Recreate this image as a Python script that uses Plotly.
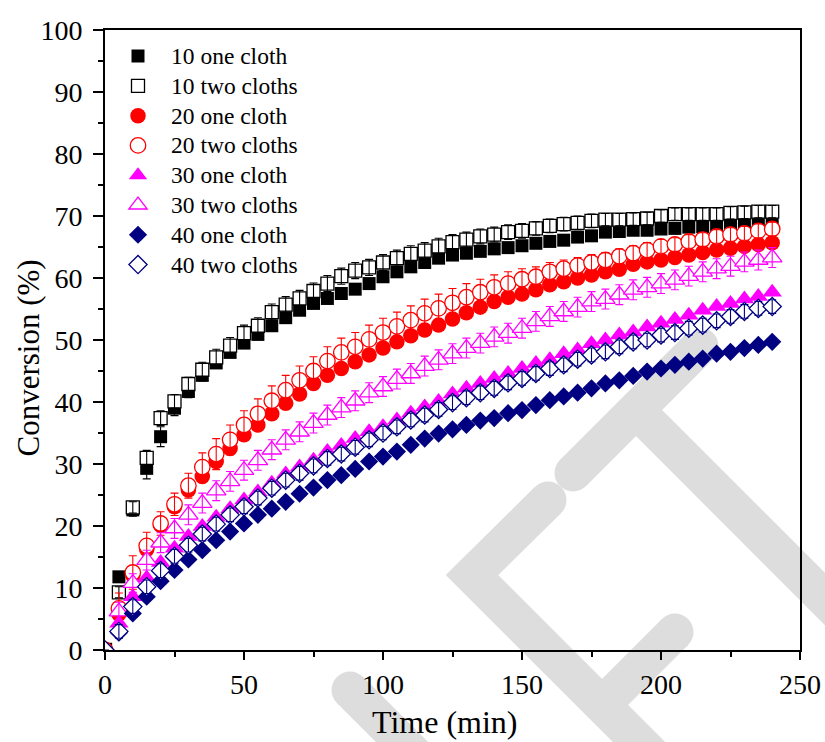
import plotly.graph_objects as go

# ---- data: conversion (%) versus time (min) ----
time = [0, 5, 10, 15, 20, 25, 30, 35, 40, 45, 50, 55, 60, 65, 70, 75, 80, 85, 90, 95,
        100, 105, 110, 115, 120, 125, 130, 135, 140, 145, 150, 155, 160, 165, 170,
        175, 180, 185, 190, 195, 200, 205, 210, 215, 220, 225, 230, 235, 240]

one10 = [0, 11.8, 22.6, 29.3, 34.4, 39.0, 41.7, 44.3, 46.3, 48.0, 49.5, 50.9, 52.3, 53.6,
         54.8, 55.9, 56.7, 57.5, 58.2, 59.1, 60.2, 61.0, 61.8, 62.5, 63.2, 63.7, 64.0, 64.3,
         64.7, 64.9, 65.2, 65.6, 65.9, 66.1, 66.6, 66.8, 67.4, 67.5, 67.7, 67.7, 67.9, 68.0,
         68.2, 68.3, 68.5, 68.5, 68.7, 68.8, 69.0]
two10 = [0, 9.3, 23.0, 31.0, 37.4, 40.1, 42.9, 45.2, 47.2, 49.1, 51.1, 52.3, 54.5, 55.7,
         56.7, 57.9, 59.1, 60.3, 61.2, 61.7, 62.5, 63.2, 63.9, 64.4, 65.1, 65.8, 66.2, 66.7,
         67.0, 67.4, 67.6, 68.0, 68.4, 68.7, 68.9, 69.2, 69.4, 69.4, 69.5, 69.6, 70.0, 70.3,
         70.3, 70.3, 70.3, 70.5, 70.6, 70.7, 70.7]
one20 = [0, 5.8, 12.0, 16.2, 20.1, 23.1, 25.8, 28.0, 30.4, 32.5, 34.7, 36.3, 38.1, 39.8,
         41.3, 43.0, 44.3, 45.4, 46.5, 47.6, 48.7, 49.7, 50.7, 51.6, 52.4, 53.4, 54.4, 55.3,
         56.2, 56.9, 57.4, 58.1, 58.9, 59.4, 60.0, 60.5, 61.0, 61.4, 62.2, 62.6, 62.9, 63.3,
         63.7, 64.1, 64.5, 64.8, 65.1, 65.4, 65.7]
two20 = [0, 6.7, 12.5, 16.8, 20.4, 23.5, 26.5, 29.5, 31.6, 33.9, 36.3, 38.1, 40.2, 41.9,
         43.5, 45.0, 46.6, 48.0, 48.9, 50.1, 51.2, 52.2, 53.2, 54.3, 55.1, 56.0, 56.9, 57.7,
         58.5, 59.1, 59.8, 60.2, 61.0, 61.5, 62.0, 62.5, 62.9, 63.5, 64.0, 64.5, 65.1, 65.4,
         65.9, 66.2, 66.7, 67.0, 67.2, 67.6, 67.9]
one30 = [0, 4.3, 8.6, 11.6, 14.1, 16.4, 18.3, 19.9, 21.4, 22.8, 24.2, 25.5, 26.9, 28.4,
         29.5, 30.6, 32.0, 33.0, 34.1, 35.2, 36.0, 37.1, 38.2, 39.2, 40.1, 41.3, 42.2, 43.0,
         43.8, 44.6, 45.4, 46.2, 46.8, 47.8, 48.4, 49.4, 50.0, 50.8, 51.3, 52.1, 52.7, 53.3,
         54.0, 54.8, 55.4, 55.9, 56.6, 57.0, 57.7]
two30 = [0, 6.2, 10.8, 14.5, 17.3, 19.6, 21.8, 23.7, 25.7, 27.2, 29.0, 30.6, 32.3, 33.9,
         35.2, 36.6, 37.9, 39.1, 40.2, 41.5, 42.5, 43.7, 44.6, 45.8, 46.8, 47.8, 48.7, 49.5,
         50.5, 51.1, 51.9, 53.0, 53.8, 54.6, 55.3, 56.2, 56.6, 57.3, 58.1, 58.5, 59.1, 59.7,
         60.3, 61.0, 61.5, 61.9, 62.6, 62.9, 63.3]
one40 = [0, 2.8, 5.9, 8.6, 11.1, 12.9, 14.6, 16.1, 17.7, 19.1, 20.4, 21.8, 22.8, 23.9,
         25.2, 26.2, 27.4, 28.2, 29.2, 30.4, 31.2, 32.0, 33.1, 34.1, 34.9, 35.6, 36.3, 37.0,
         37.4, 38.2, 38.7, 39.5, 40.3, 40.9, 41.5, 42.2, 43.0, 43.5, 44.2, 44.9, 45.4, 46.0,
         46.5, 47.0, 47.8, 48.1, 48.7, 49.2, 49.7]
two40 = [0, 3.0, 7.0, 10.2, 12.8, 15.1, 16.9, 18.7, 20.3, 21.8, 23.1, 24.5, 26.1, 27.4,
         28.5, 29.7, 30.9, 31.6, 32.7, 33.9, 35.0, 36.0, 37.1, 37.9, 38.8, 39.9, 40.7, 41.5,
         42.2, 43.1, 43.8, 44.6, 45.4, 46.0, 46.9, 47.6, 48.1, 48.9, 49.7, 50.0, 50.8, 51.2,
         51.9, 52.4, 53.1, 53.8, 54.6, 55.1, 55.4]

# standard deviations (error bars)
err_one10 = [0, 0.8, 1.0, 1.7, 1.6, 1.2, 1.0, 0.9, 0.8, 0.8, 0.7, 0.7, 0.7, 0.7, 0.6, 0.6,
             0.6, 0.6, 0.6, 0.6, 0.6, 0.6, 0.6, 0.6, 0.6, 0.6, 0.6, 0.6, 0.6, 0.6, 0.6, 0.6,
             0.6, 0.6, 0.6, 0.6, 0.6, 0.6, 0.6, 0.6, 0.6, 0.6, 0.6, 0.6, 0.6, 0.6, 0.6, 0.6, 0.6]
err_two10 = [0, 0.9, 0.9, 1.2, 1.2, 1.1, 1.1, 1.2, 1.3, 1.3, 1.3, 1.3, 1.3, 1.3, 1.3, 1.3,
             1.3, 1.3, 1.3, 1.3, 1.3, 1.3, 1.3, 1.3, 1.3, 1.2, 1.2, 1.2, 1.2, 1.2, 1.2, 1.1,
             1.1, 1.1, 1.1, 1.1, 1.0, 1.0, 1.0, 1.0, 1.0, 1.0, 1.0, 1.0, 1.0, 1.0, 1.0, 1.0, 1.0]
err_two20 = [0, 2.5, 2.7, 2.2, 1.9, 1.8, 2.0, 2.3, 2.5, 2.4, 2.3, 2.4, 2.4, 2.4, 2.3, 2.3,
             2.3, 2.3, 2.3, 2.3, 2.3, 2.3, 2.3, 2.3, 2.3, 2.3, 2.2, 2.1, 2.0, 1.9, 1.7, 1.6,
             1.5, 1.4, 1.3, 1.3, 1.2, 1.2, 1.2, 1.2, 1.1, 1.1, 1.1, 1.1, 1.1, 1.1, 1.1, 1.1, 1.1]
err_two30 = [0, 1.5, 1.5, 1.6, 1.6, 1.6, 1.6, 1.6, 1.6, 1.6, 1.6, 1.6, 1.6, 1.6, 1.6, 1.6,
             1.6, 1.6, 1.6, 1.6, 1.6, 1.6, 1.6, 1.6, 1.6, 1.6, 1.6, 1.6, 1.6, 1.6, 1.6, 1.6,
             1.6, 1.6, 1.6, 1.6, 1.6, 1.6, 1.6, 1.6, 1.6, 1.6, 1.6, 1.6, 1.6, 1.6, 1.6, 1.6, 1.6]
err_two40 = [0, 1.1, 1.1, 1.1, 1.1, 1.1, 1.1, 1.1, 1.1, 1.1, 1.1, 1.1, 1.1, 1.1, 1.1, 1.1,
             1.1, 1.1, 1.1, 1.1, 1.1, 1.1, 1.1, 1.1, 1.1, 1.1, 1.1, 1.1, 1.1, 1.1, 1.1, 1.1,
             1.1, 1.1, 1.1, 1.1, 1.1, 1.1, 1.1, 1.1, 1.1, 1.1, 1.1, 1.1, 1.1, 1.1, 1.1, 1.1, 1.1]

FONT = "Liberation Serif"
BLACK, RED, MAGENTA, NAVY = "#000000", "#ff0000", "#ff00ff", "#000080"

# (name, values, errors, colour, symbol, size, filled)
series = [
    ("10 one cloth", one10, err_one10, BLACK, "square", 13, True),
    ("10 two cloths", two10, err_two10, BLACK, "square", 13, False),
    ("20 one cloth", one20, None, RED, "circle", 15.5, True),
    ("20 two cloths", two20, err_two20, RED, "circle", 15.5, False),
    ("30 one cloth", one30, None, MAGENTA, "triangle-up", 17, True),
    ("30 two cloths", two30, err_two30, MAGENTA, "triangle-up", 17, False),
    ("40 one cloth", one40, None, NAVY, "diamond", 14, True),
    ("40 two cloths", two40, err_two40, NAVY, "diamond", 14, False),
]

fig = go.Figure()
for name, vals, errs, col, sym, size, filled in series:
    if filled:
        marker = dict(symbol=sym, size=size, color=col, line=dict(width=0))
    else:
        marker = dict(symbol=sym, size=size, color="white", line=dict(width=1.3, color=col))
    fig.add_trace(go.Scatter(
        x=time, y=vals, mode="markers",
        name=f'<span style="font-size:23.5px">{name}</span>',
        marker=marker,
        error_y=dict(array=errs, color=col, thickness=1.1, width=4)
        if (errs is not None and filled) else None))
    if errs is not None and not filled:
        # error bars painted over the white-filled hollow symbols
        fig.add_trace(go.Scatter(x=time, y=vals, mode="markers", showlegend=False,
                                 hoverinfo="skip",
                                 marker=dict(size=1, opacity=0, color=col),
                                 error_y=dict(array=errs, color=col, thickness=1.1, width=4)))

# ---- light grey background logo strokes (pixel geometry of the page) ----
L, T, W, H = 105, 30, 695, 620


def px(x, y):
    return (x - L) / W, (T + H - y) / H


strokes = [
    [(573, 473), (700, 346)],
    [(636, 410), (900, 674)],
    [(548, 500), (472, 575), (700, 803)],
    [(675, 632), (602, 705)],
    [(350, 690), (460, 800)],
]
caps = [(573, 473), (700, 346), (548, 500), (675, 632), (350, 690)]
GREY = "#dddddd"
SW = 37
shapes = []
for pts in strokes:
    conv = [px(*p) for p in pts]
    d = "M " + " L ".join(f"{a:.5f},{b:.5f}" for a, b in conv)
    shapes.append(dict(type="path", path=d, xref="paper", yref="paper", layer="below",
                       line=dict(color=GREY, width=SW)))
for cx, cy in caps:
    x0, y0 = px(cx - SW / 2, cy + SW / 2)
    x1, y1 = px(cx + SW / 2, cy - SW / 2)
    shapes.append(dict(type="circle", xref="paper", yref="paper", layer="below",
                       x0=x0, x1=x1, y0=y0, y1=y1, fillcolor=GREY, line=dict(width=0)))

# axis titles placed as annotations
ytx, yty = px(27.5, 358)
xtx, xty = px(445, 722)
annotations = [
    dict(text="Conversion (%)", xref="paper", yref="paper", x=ytx, y=yty, textangle=-90,
         xanchor="center", yanchor="middle", showarrow=False,
         font=dict(family=FONT, size=31, color="black")),
    dict(text="Time (min)", xref="paper", yref="paper", x=xtx, y=xty,
         xanchor="center", yanchor="middle", showarrow=False,
         font=dict(family=FONT, size=32, color="black")),
]

axis_common = dict(
    showline=True, linewidth=2, linecolor="black", mirror=True,
    ticks="outside", tickwidth=2, tickcolor="black",
    showgrid=False, zeroline=False, automargin=False,
    tickfont=dict(family=FONT, size=28, color="black"),
)

fig.update_layout(
    width=825, height=742,
    margin=dict(l=L, r=825 - L - W, t=T, b=742 - T - H, autoexpand=False),
    paper_bgcolor="white", plot_bgcolor="rgba(0,0,0,0)",
    shapes=shapes, annotations=annotations,
    xaxis=dict(range=[0, 250], dtick=50, tick0=0, ticklen=8,
               minor=dict(dtick=25, ticks="outside", ticklen=5, tickwidth=2, tickcolor="black"),
               **axis_common),
    yaxis=dict(range=[0, 100], dtick=10, tick0=0, ticklen=10,
               minor=dict(dtick=5, ticks="outside", ticklen=5, tickwidth=2, tickcolor="black"),
               ticklabelstandoff=5,
               **axis_common),
    legend=dict(x=0.0, y=0.99, xanchor="left", yanchor="top", bgcolor="rgba(0,0,0,0)",
                font=dict(family=FONT, size=20.6, color="black"), itemwidth=56,
                traceorder="normal"),
    showlegend=True,
)

fig.write_html("out.html")
